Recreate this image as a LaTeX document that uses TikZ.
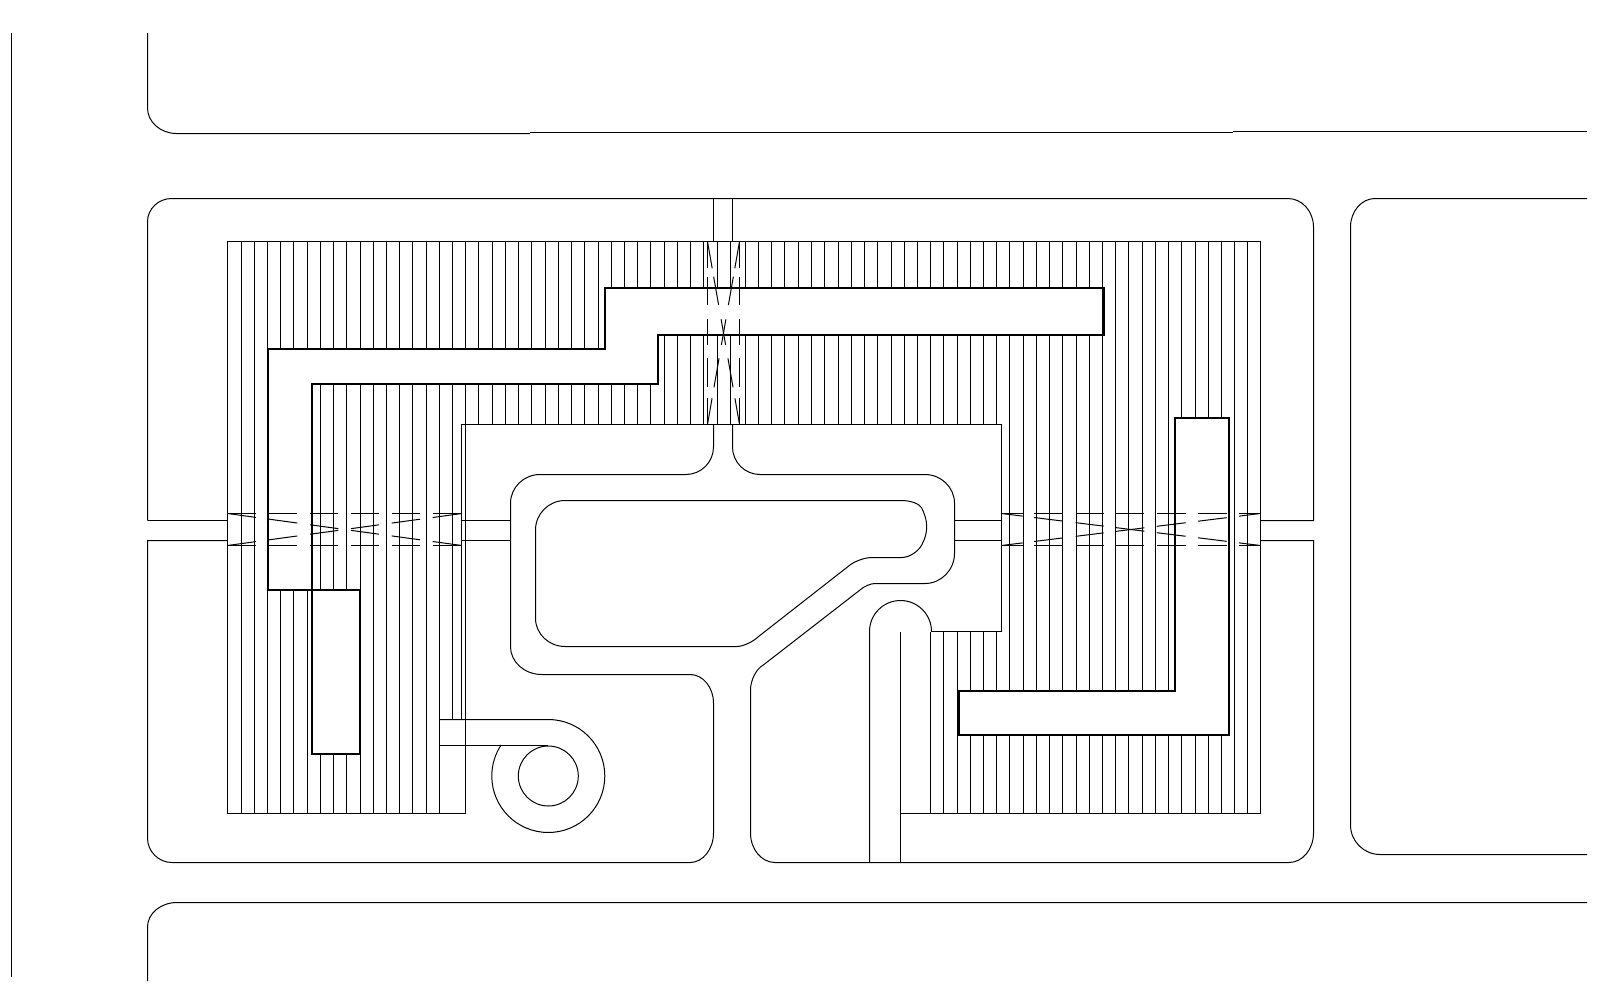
\documentclass[tikz,border=0pt]{standalone}
\usetikzlibrary{calc}
\tikzset{
  thinline/.style={draw=black,line width=1pt,line cap=butt},
  wallline/.style={draw=black,fill=white,line width=2.3pt,line join=miter},
  maskfill/.style={fill=white,draw=none}
}
\def\rc(#1)(#2)(#3){.. controls ($(#1)!.55!(#2)$) and ($(#3)!.55!(#2)$) .. (#3)}
\begin{document}
\begin{tikzpicture}[x=1pt,y=1pt,yscale=-1]
\useasboundingbox (0,0) rectangle (1599,985);
% hatch
\foreach \x in {227.5,241.5,254.5,267.5,280.5,293.5,307.5,320.5,333.5,346.5,360.5,373.5,386.5,399.5,412.5,426.5,439.5,452.5,465.5,478.5,492.5,505.5,518.5,531.5,545.5,558.5,571.5,584.5,598.5,611.5,624.5,637.5,650.5,664.5,677.5,690.5,703.5,717.5,730.5,745.5,758.5,771.5,784.5,798.5,811.5,824.5,838.5,851.5,864.5,877.5,891.5,904.5,917.5,930.5,943.5,957.5,970.5,983.5,996.5,1009.5,1023.5,1036.5,1049.5,1062.5,1076.5,1089.5,1102.5,1115.5,1128.5,1142.5,1155.5,1168.5,1181.5,1195.5,1208.5,1221.5,1234.5,1247.5,1260.5}
  \draw[thinline] (\x,241.5) -- (\x,813.5);
\fill[maskfill] (466,424.5) rectangle (1001,631.5);
\fill[maskfill] (466,631) rectangle (930,814);
\fill[maskfill] (440,719.5) rectangle (465,814);
% hatch frame
\draw[thinline] (227,241.5) -- (1261,241.5);
\draw[thinline] (227,813.5) -- (466,813.5);
\draw[thinline] (900,813.5) -- (1261,813.5);
% inner yard
\draw[thinline] (461.5,719.5) -- (461.5,424.5) -- (1001.5,424.5) -- (1001.5,631.5) -- (931,631.5);
% buildings
\draw[wallline] (268.3,590) -- (268.3,349) -- (605,349) -- (605,288) -- (1103.5,288) -- (1103.5,335) -- (658,335) -- (658,384) -- (311.8,384) -- (311.8,590) -- cycle;
\draw[wallline] (312,590) rectangle (360,754);
\draw[wallline] (1175,418) -- (1229,418) -- (1229,735) -- (959,735) -- (959,691) -- (1175,691) -- cycle;
% site edges
\draw[thinline] (11.5,33) -- (11.5,977);
\draw[thinline] (147.5,33) -- (147.5,108) \rc(147.5,108)(147.5,133.5)(176.5,133.5) -- (530,133.5);
\draw[thinline] (530,132.5) -- (1233,132.5);
\draw[thinline] (1233,131.5) -- (1587,131.5);
\draw[thinline] (147.5,520.5) -- (147.5,221.7) \rc(147.5,221.7)(147.5,198.5)(171.7,198.5) -- (1288,198.5) \rc(1288,198.5)(1313.5,198.5)(1313.5,227) -- (1313.5,520.5) -- (1260.5,520.5);
\draw[thinline] (713.5,198.5) -- (713.5,241.5);
\draw[thinline] (732.5,198.5) -- (732.5,241.5);
\draw[thinline] (1260.5,540.5) -- (1313.5,540.5) -- (1313.5,833) \rc(1313.5,833)(1313.5,862.5)(1289,862.5) -- (775,862.5) \rc(775,862.5)(750.5,862.5)(750.5,833) -- (750.5,690) \rc(750.5,690)(750.5,672)(763.3,665) -- (860,590) \rc(860,590)(867,583.5)(875,583.5) -- (925,583.5) \rc(925,583.5)(954.5,583.5)(954.5,553.3) -- (954.5,503.3) \rc(954.5,503.3)(954.5,474.5)(925,474.5) -- (760,474.5) \rc(760,474.5)(732.5,474.5)(732.5,447) -- (732.5,424.5);
\draw[thinline] (713.5,424.5) -- (713.5,447) \rc(713.5,447)(713.5,474.5)(686,474.5) -- (540,474.5) \rc(540,474.5)(510.5,474.5)(510.5,503.3) -- (510.5,646.7) \rc(510.5,646.7)(510.5,674.5)(541.7,674.5) -- (690,674.5) \rc(690,674.5)(713.5,674.5)(713.5,703) -- (713.5,833) \rc(713.5,833)(713.5,862.5)(690,862.5) -- (172,862.5) \rc(172,862.5)(147.5,862.5)(147.5,838) -- (147.5,540.5) -- (227.5,540.5);
\draw[thinline] (147.5,520.5) -- (227.5,520.5);
\draw[thinline] (461.5,520.5) -- (510.5,520.5);
\draw[thinline] (461.5,540.5) -- (510.5,540.5);
\draw[thinline] (954.5,520.5) -- (1001.5,520.5);
\draw[thinline] (954.5,540.5) -- (1001.5,540.5);
% right block and bottom road
\draw[thinline] (1587,198.5) -- (1375,198.5) \rc(1375,198.5)(1350.5,198.5)(1350.5,227) -- (1350.5,825) \rc(1350.5,825)(1350.5,854.5)(1380,854.5) -- (1587,854.5);
\draw[thinline] (147.5,981) -- (147.5,927) \rc(147.5,927)(147.5,902.5)(177,902.5) -- (1587,902.5);
% island
\draw[thinline] (565,500.5) -- (901.7,500.5) \rc(901.7,500.5)(918,500.5)(921.7,508) .. controls (925,515) and (926.7,520) .. (926.7,526.7) .. controls (926.7,533) and (925,539) .. (921.7,545) \rc(921.7,545)(915,557.5)(901.7,557.5) -- (871.7,557.5) \rc(871.7,557.5)(860,557.5)(850,565) -- (758.3,636.7) \rc(758.3,636.7)(748,646.5)(736.7,646.5) -- (565,646.5) \rc(565,646.5)(535.5,646.5)(535.5,618.3) -- (535.5,530) \rc(535.5,530)(535.5,500.5)(565,500.5) -- cycle;
% service road with turnaround
\draw[thinline] (869.5,862.5) -- (869.5,631.5) arc[start angle=180,end angle=360,radius=31pt];
\draw[thinline] (900.5,631.5) -- (900.5,862.5);
% ramp and circle
\draw[thinline] (548.3,745.5) -- (439.5,745.5);
\draw[thinline] (439.5,719.5) -- (548.3,719.5) arc[start angle=-90,end angle=213.4,radius=56.5pt];
\draw[thinline] (548.3,776) circle[radius=30pt];
% crossings, dashed by hand
\foreach \a/\b in {227.5/256,268.3/297.3,310/338.3,351/379,391.7/420,432.7/461.5}{
  \draw[thinline] (\a,513.5) -- (\b,513.5);
  \draw[thinline] (\a,545.5) -- (\b,545.5);
  \draw[thinline] (\a,{513.5+(\a-227.5)*0.1365}) -- (\b,{513.5+(\b-227.5)*0.1365});
  \draw[thinline] (\a,{545.5-(\a-227.5)*0.1365}) -- (\b,{545.5-(\b-227.5)*0.1365});
}
\foreach \a/\b in {1001.5/1022.7,1034/1062,1075.7/1103.7,1115.7/1144.3,1156.7/1185.7,1198/1226.7,1239/1260.5}{
  \draw[thinline] (\a,513.5) -- (\b,513.5);
  \draw[thinline] (\a,545.5) -- (\b,545.5);
  \draw[thinline] (\a,{513.5+(\a-1001.5)*0.1236}) -- (\b,{513.5+(\b-1001.5)*0.1236});
  \draw[thinline] (\a,{545.5-(\a-1001.5)*0.1236}) -- (\b,{545.5-(\b-1001.5)*0.1236});
}
\foreach \a/\b in {241.5/268.3,276.7/305,319.3/345,358.3/387.3,398.3/424.5}{
  \draw[thinline] (707.5,\a) -- (707.5,\b);
  \draw[thinline] (739.5,\a) -- (739.5,\b);
  \draw[thinline] ({707.5+(\a-241.5)*0.175},\a) -- ({707.5+(\b-241.5)*0.175},\b);
  \draw[thinline] ({739.5-(\a-241.5)*0.175},\a) -- ({739.5-(\b-241.5)*0.175},\b);
}
\end{tikzpicture}
\end{document}
